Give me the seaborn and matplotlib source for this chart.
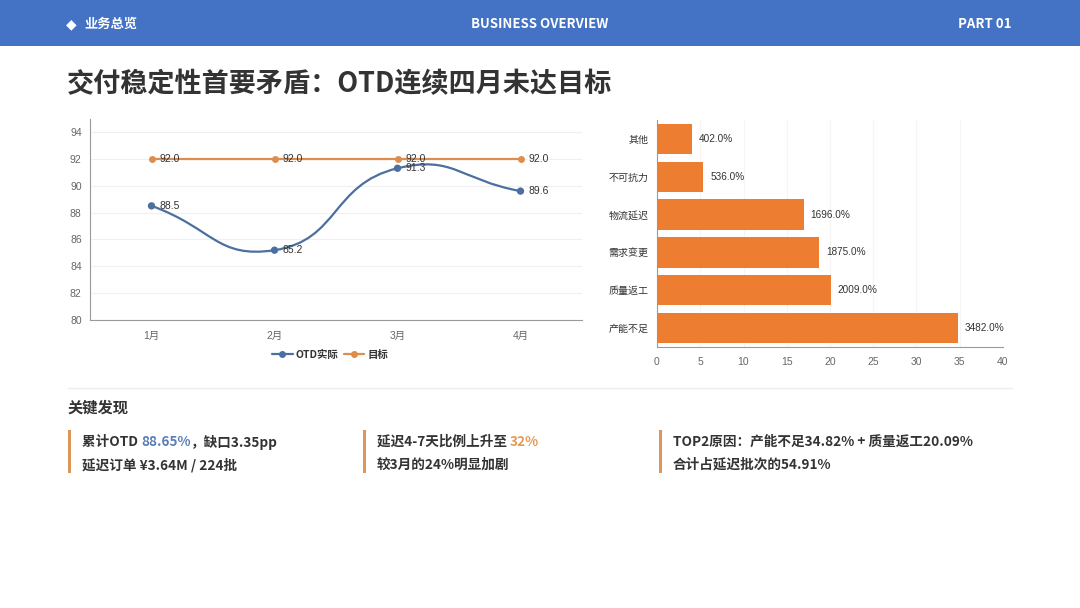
import numpy as np
import pandas as pd
import matplotlib
matplotlib.use("Agg")
import matplotlib.pyplot as plt
from matplotlib.path import Path
from matplotlib.patches import PathPatch, Rectangle
from matplotlib.lines import Line2D
import seaborn as sns

# ---------------- data ----------------
months = ["1月", "2月", "3月", "4月"]
otd_actual = [88.5, 85.2, 91.3, 89.6]
otd_target = [92.0, 92.0, 92.0, 92.0]

causes = ["其他", "不可抗力", "物流延迟", "需求变更", "质量返工", "产能不足"]
cause_share = [4.02, 5.36, 16.96, 18.75, 20.09, 34.82]

line_yticks = [80, 82, 84, 86, 88, 90, 92, 94]
bar_xticks = [0, 5, 10, 15, 20, 25, 30, 35, 40]

# ---------------- style ----------------
sns.set_theme(style="white")
plt.rcParams['font.family'] = ['Noto Sans CJK SC', 'DejaVu Sans']
CHART_FONT = ['Liberation Sans', 'Noto Sans CJK SC']
CJK = ['Noto Sans CJK SC', 'DejaVu Sans']

BLUE_HEADER = "#4472C4"
LINE_BLUE = "#4B6F9F"
LINE_ORANGE = "#DC8E4E"
BAR_ORANGE = "#ED7D31"
AXIS_GRAY = "#9A9A9A"
TICK_GRAY = "#666666"
DARK = "#333333"

W, H = 1080, 608
fig = plt.figure(figsize=(W / 100, H / 100), dpi=100)
fig.patch.set_facecolor("white")


def fx(px):
    return px / W


def fy(py):
    return 1 - py / H


# header band
fig.patches.append(Rectangle((0, fy(46)), 1, 46 / H, transform=fig.transFigure,
                             facecolor=BLUE_HEADER, edgecolor="none", zorder=0))
fig.text(fx(66), fy(24), "◆", color="white", fontsize=10, va="center", ha="left",
         family=['DejaVu Sans'])
fig.text(fx(84), fy(24), "业务总览", color="white", fontsize=9.5, fontweight="bold",
         va="center", ha="left", family=CJK)
fig.text(0.5, fy(24), "BUSINESS OVERVIEW", color="white", fontsize=9.5, fontweight="bold",
         va="center", ha="center", family=CJK)
fig.text(fx(1012), fy(24), "PART 01", color="white", fontsize=9.5, fontweight="bold",
         va="center", ha="right", family=CJK)

# title
fig.text(fx(67), fy(84), "交付稳定性首要矛盾：OTD连续四月未达目标", color=DARK,
         fontsize=19.5, fontweight="bold", va="center", ha="left", family=CJK)

# ---------------- line chart ----------------
axL = fig.add_axes([fx(90), fy(320), (582 - 90) / W, (320 - 118.6) / H])
xs = np.arange(len(months))
axL.set_xlim(-0.5, len(months) - 0.5)
axL.set_ylim(80, 95)
axL.set_yticks(line_yticks)
axL.set_yticklabels([str(v) for v in line_yticks])
axL.set_xticks(xs)
axL.set_xticklabels(months)
axL.set_xticks(xs[:-1] + 0.5, minor=True)
axL.tick_params(axis="x", which="major", length=0, pad=8, labelsize=7.5, labelcolor=TICK_GRAY)
axL.tick_params(axis="x", which="minor", length=4, color=AXIS_GRAY, direction="out")
axL.tick_params(axis="y", which="major", length=0, pad=6, labelsize=7.5, labelcolor=TICK_GRAY)
for lab in axL.get_xticklabels() + axL.get_yticklabels():
    lab.set_family(CHART_FONT)
axL.grid(axis="y", color="#F0F0F0", linewidth=0.8)
axL.set_axisbelow(True)
for s in ["top", "right"]:
    axL.spines[s].set_visible(False)
axL.spines["left"].set_color(AXIS_GRAY)
axL.spines["bottom"].set_color(AXIS_GRAY)
axL.spines["left"].set_linewidth(0.8)
axL.spines["bottom"].set_linewidth(0.8)

df_line = pd.DataFrame({"x": xs, "actual": otd_actual, "target": otd_target})

# target line (straight)
sns.lineplot(data=df_line, x="x", y="target", ax=axL, color=LINE_ORANGE, linewidth=1.6,
             marker="o", markersize=5, markeredgewidth=0, legend=False, zorder=3)

# actual: smooth curve through data points (ECharts-like smoothing, in display space)
fig.canvas.draw()
pts = axL.transData.transform(np.column_stack([xs, otd_actual]).astype(float))
smooth = 0.5
verts = [tuple(pts[0])]
codes = [Path.MOVETO]
cps_after = []
cps_before = []
n = len(pts)
for i in range(n):
    p = pts[i]
    prev = pts[i - 1] if i > 0 else p
    nxt = pts[i + 1] if i < n - 1 else p
    v = (nxt - prev) * smooth
    l0 = np.hypot(*(p - prev))
    l1 = np.hypot(*(nxt - p))
    r = l1 / (l0 + l1) if (l0 + l1) > 0 else 0.5
    cps_after.append(p + v * r)
    cps_before.append(p - v * (1 - r))
for i in range(n - 1):
    verts += [tuple(cps_after[i]), tuple(cps_before[i + 1]), tuple(pts[i + 1])]
    codes += [Path.CURVE4] * 3
inv = axL.transData.inverted()
verts_data = inv.transform(np.array(verts))
axL.add_patch(PathPatch(Path(verts_data, codes), facecolor="none", edgecolor=LINE_BLUE,
                        linewidth=1.6, zorder=3))
sns.scatterplot(data=df_line, x="x", y="actual", ax=axL, color=LINE_BLUE, s=28,
                edgecolor="none", legend=False, zorder=4)
axL.set_xlabel("")
axL.set_ylabel("")

for x, v in zip(xs, otd_actual):
    axL.annotate(f"{v:.1f}", (x, v), xytext=(6, 0), textcoords="offset points",
                 va="center", ha="left", fontsize=7.5, color=DARK, family=CHART_FONT)
for x, v in zip(xs, otd_target):
    axL.annotate(f"{v:.1f}", (x, v), xytext=(6, 0), textcoords="offset points",
                 va="center", ha="left", fontsize=7.5, color=DARK, family=CHART_FONT)

handles = [Line2D([0], [0], color=LINE_BLUE, marker="o", markersize=4, linewidth=1.6),
           Line2D([0], [0], color=LINE_ORANGE, marker="o", markersize=4, linewidth=1.6)]
leg = fig.legend(handles, ["OTD实际", "目标"], loc="center", bbox_to_anchor=(fx(330), fy(355)),
                 ncol=2, frameon=False, fontsize=7.5, handlelength=2.0, handletextpad=0.3,
                 columnspacing=0.5)
for t in leg.get_texts():
    t.set_fontweight("bold")
    t.set_color(DARK)
    t.set_family(CJK)

# ---------------- bar chart ----------------
axB = fig.add_axes([fx(657), fy(347), (1003 - 657) / W, (347 - 120) / H])
df_bar = pd.DataFrame({"cause": causes, "share": cause_share})
sns.barplot(data=df_bar, x="share", y="cause", ax=axB, color=BAR_ORANGE, orient="h",
            width=0.8, saturation=1, linewidth=0, edgecolor="none", zorder=3)
axB.set_xlim(0, 40)
axB.set_ylim(len(causes) - 0.5, -0.5)
axB.set_xticks(bar_xticks)
axB.set_xticklabels([str(v) for v in bar_xticks])
axB.set_yticks(np.arange(len(causes) + 1) - 0.5, minor=True)
axB.tick_params(axis="y", which="major", length=0, pad=6, labelsize=7.2, labelcolor=DARK)
axB.tick_params(axis="y", which="minor", length=4, color=AXIS_GRAY, direction="out")
axB.tick_params(axis="x", which="major", length=4, color=AXIS_GRAY, direction="out",
                labelsize=7.5, labelcolor=TICK_GRAY, pad=3)
for lab in axB.get_xticklabels() + axB.get_yticklabels():
    lab.set_family(CHART_FONT)
axB.grid(axis="x", color="#F5F5F5", linewidth=0.8)
axB.set_axisbelow(True)
for s in ["top", "right"]:
    axB.spines[s].set_visible(False)
axB.spines["left"].set_color(AXIS_GRAY)
axB.spines["bottom"].set_color(AXIS_GRAY)
axB.spines["left"].set_linewidth(0.8)
axB.spines["bottom"].set_linewidth(0.8)
axB.set_xlabel("")
axB.set_ylabel("")
for i, v in enumerate(cause_share):
    axB.annotate(f"{v * 100:.1f}%", (v, i), xytext=(5, 0), textcoords="offset points",
                 va="center", ha="left", fontsize=7.2, color=DARK, family=CHART_FONT)

# ---------------- key findings ----------------
fig.add_artist(Line2D([fx(68), fx(1012)], [fy(388), fy(388)], color="#EDEDED", linewidth=1,
                      transform=fig.transFigure))
fig.text(fx(68), fy(408), "关键发现", color=DARK, fontsize=11, fontweight="bold",
         va="center", ha="left", family=CJK)

CARD_ORANGE = "#DD965A"
card_x = [68, 363, 659]
for cx in card_x:
    fig.patches.append(Rectangle((fx(cx), fy(473)), 3 / W, 43 / H, transform=fig.transFigure,
                                 facecolor=CARD_ORANGE, edgecolor="none"))

TXT = dict(fontsize=9.8, color=DARK, va="center", ha="left", family=CJK, fontweight="bold")


def rich_line(x_px, y_px, parts):
    x = fx(x_px)
    r = fig.canvas.get_renderer()
    for text, col in parts:
        t = fig.text(x, fy(y_px), text, **{**TXT, "color": col})
        bb = t.get_window_extent(renderer=r)
        x += bb.width / W


fig.canvas.draw()
rich_line(82, 442, [("累计OTD ", DARK), ("88.65%", "#5A7FB8"), ("，缺口3.35pp", DARK)])
rich_line(82, 465, [("延迟订单 ¥3.64M / 224批", DARK)])
rich_line(377, 442, [("延迟4-7天比例上升至 ", DARK), ("32%", "#E59A57")])
rich_line(377, 465, [("较3月的24%明显加剧", DARK)])
rich_line(673, 442, [("TOP2原因：产能不足34.82% + 质量返工20.09%", DARK)])
rich_line(673, 465, [("合计占延迟批次的54.91%", DARK)])

fig.savefig("out.png", dpi=100, facecolor="white")
